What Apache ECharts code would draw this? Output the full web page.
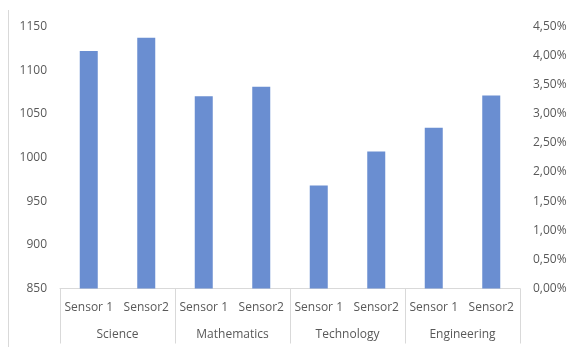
<!DOCTYPE html>
<html>
<head>
<meta charset="utf-8">
<script src="https://cdn.jsdelivr.net/npm/echarts@6/dist/echarts.min.js"></script>
<style>
  html, body { margin: 0; padding: 0; background: #ffffff; }
  #chart { width: 575px; height: 347px; }
</style>
</head>
<body>
<div id="chart"></div>
<script>
// Sensor readings grouped by subject
const groups = ['Science', 'Mathematics', 'Technology', 'Engineering'];
const sensors = ['Sensor 1', 'Sensor2'];
const readings = [1122, 1137, 1070, 1081, 968, 1007, 1034, 1071];

// Left and right value axes
const leftMin = 850, leftMax = 1150, leftStep = 50;
const rightMin = 0, rightMax = 0.045, rightStep = 0.005;

const categories = [];
groups.forEach(() => sensors.forEach(s => categories.push(s)));

const textColor = '#595959';
const lineColor = '#d9d9d9';
const font = 'Open Sans';

const chart = echarts.init(document.getElementById('chart'));
chart.setOption({
  animation: false,
  backgroundColor: '#ffffff',
  grid: { left: 60, right: 55, top: 26.5, bottom: 58.5 },
  xAxis: [
    {
      type: 'category',
      data: categories,
      position: 'bottom',
      axisLine: { show: true, lineStyle: { color: lineColor, width: 1 } },
      axisTick: { show: false },
      axisLabel: { color: textColor, fontFamily: font, fontSize: 12, margin: 13, interval: 0 },
      splitLine: { show: false }
    },
    {
      type: 'category',
      data: groups,
      position: 'bottom',
      axisLine: { show: false },
      axisTick: { show: true, length: 55, lineStyle: { color: lineColor, width: 1 } },
      axisLabel: { color: textColor, fontFamily: font, fontSize: 12, margin: 40, interval: 0 },
      splitLine: { show: false }
    }
  ],
  yAxis: [
    {
      type: 'value',
      min: leftMin, max: leftMax, interval: leftStep,
      axisLine: { show: false },
      axisTick: { show: false },
      splitLine: { show: false },
      axisLabel: {
        color: textColor, fontFamily: font, fontSize: 12, margin: 13,
        formatter: v => String(v)
      }
    },
    {
      type: 'value',
      min: rightMin, max: rightMax, interval: rightStep,
      position: 'right',
      axisLine: { show: false },
      axisTick: { show: false },
      splitLine: { show: false },
      axisLabel: {
        color: textColor, fontFamily: font, fontSize: 12, margin: 13,
        formatter: v => (v * 100).toFixed(2).replace('.', ',') + '%'
      }
    }
  ],
  series: [
    {
      type: 'bar',
      xAxisIndex: 0,
      yAxisIndex: 0,
      data: readings,
      barWidth: 18,
      itemStyle: { color: '#6a8ed1' }
    }
  ],
  graphic: [
    {
      type: 'line',
      shape: { x1: 8.5, y1: 10, x2: 8.5, y2: 347 },
      style: { stroke: lineColor, lineWidth: 1 }
    }
  ]
});
</script>
</body>
</html>
